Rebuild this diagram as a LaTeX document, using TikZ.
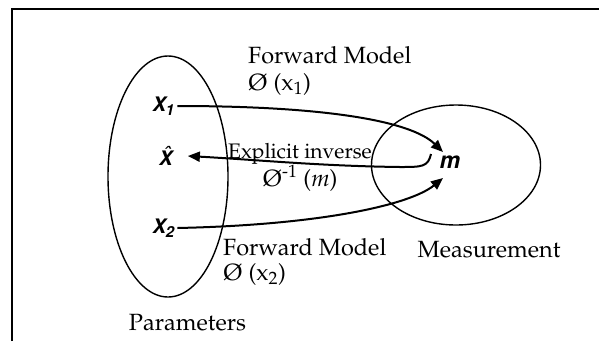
\documentclass[tikz,border=0pt]{standalone}
\usepackage[T1]{fontenc}
\usepackage{mathpazo}
\usepackage{helvet}
\usetikzlibrary{arrows.meta,shapes.geometric}
\tikzset{
  serif/.style={inner sep=0pt, font=\fontsize{23.5}{27}\selectfont},
  serifsmall/.style={inner sep=0pt, font=\fontsize{21}{24}\selectfont},
  var/.style={inner sep=0pt, font=\fontfamily{phv}\fontseries{b}\fontshape{sl}\fontsize{20}{22}\selectfont},
  mvar/.style={inner sep=0pt, font=\fontfamily{phv}\fontseries{b}\fontshape{sl}\fontsize{23}{25}\selectfont},
  conn/.style={line width=2pt, -{Triangle[length=12pt,width=10pt]}},
  setshape/.style={draw, ellipse, line width=1.4pt, inner sep=0pt},
  framing/.style={line width=2pt}
}
\begin{document}
\begin{tikzpicture}[x=1pt,y=-1pt]
\useasboundingbox (0,0) rectangle (599,341);
\draw[framing] (12,341) -- (12,9) -- (599,9);
% sets
\node[setshape, minimum width=120pt, minimum height=241pt] (params) at (168,176.5) {};
\node[setshape, minimum width=169pt, minimum height=120pt] (meas) at (456,165) {};
% variables
\node[var] (x1) at (163,106) {X\textsubscript{1}};
\node[var] (xhat) at (165,156) {\^{X}};
\node[var] (x2) at (163,228) {X\textsubscript{2}};
\node[mvar] (m) at (449,162) {m};
% connectors
\draw[conn] ([xshift=3pt]x1.east) .. controls (320,106) and (410,120) .. ([shift={(-6,-10)}]m.center);
\draw[conn] ([xshift=3pt]x2.east) .. controls (320,225) and (410,205) .. ([shift={(-6,16)}]m.center);
\draw[conn] ([shift={(-18,-8)}]m.center) .. controls (428,167) and (422,167) .. (400,167)
   .. controls (320,166) and (260,160) .. ([xshift=16pt]xhat.east);
% labels
\node[serif, anchor=base west] (fm1) at (248,63) {Forward Model};
\node[serif, anchor=base west] (phi1) at (248,90) {\O{} (x\textsubscript{1})};
\node[serifsmall, anchor=base] (inv) at (300,158) {Explicit inverse};
\node[serif, anchor=base] (phiinv) at (300,186) {\O\textsuperscript{-1} (\textit{m})};
\node[serif, anchor=base west] (fm2) at (223,255) {Forward Model};
\node[serif, anchor=base west] (phi2) at (223,280) {\O{} (x\textsubscript{2})};
\node[serif, anchor=base] (measlab) at (489,257) {Measurement};
\node[serif, anchor=base] (paramlab) at (187.5,330) {Parameters};
\end{tikzpicture}
\end{document}
